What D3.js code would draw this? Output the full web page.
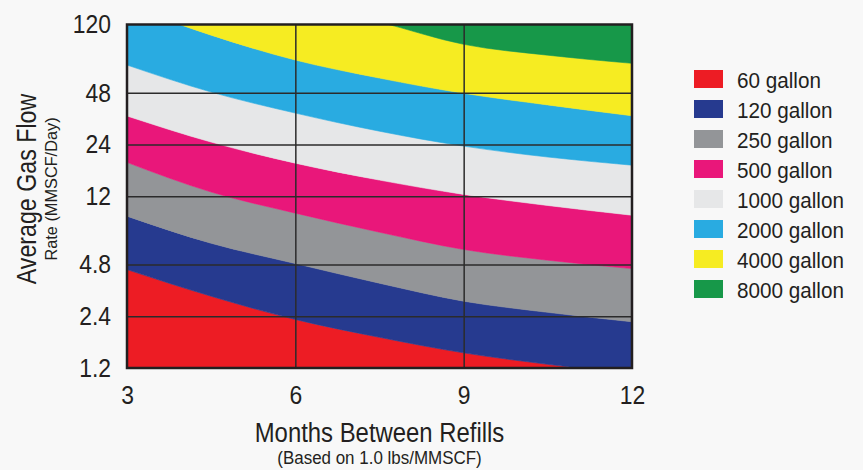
<!DOCTYPE html>
<html>
<head>
<meta charset="utf-8">
<script src="https://cdn.jsdelivr.net/npm/d3@7"></script>
<style>
  html, body { margin: 0; padding: 0; background: #f8f8f8; }
  svg { display: block; }
  text { font-family: "Liberation Sans", Arial, Helvetica, sans-serif; fill: #231f20; }
</style>
</head>
<body>
<script>
// ---- data ----
const months = [3, 4.5, 6, 7.5, 9, 10.5, 12];
// upper boundary (gas flow rate, MMSCF/Day) of each tank-size band
const b60   = [4.49, 3.14, 2.30, 1.81, 1.47, 1.26, 1.10];
const b120  = [9.19, 6.39, 4.87, 3.74, 2.94, 2.53, 2.23];
const b250  = [18.9, 12.7, 9.57, 7.41, 5.88, 5.09, 4.55];
const b500  = [35.2, 24.8, 18.7, 14.9, 12.3, 10.6, 9.3];
const b1000 = [69.7, 48.5, 36.6, 28.7, 23.5, 20.3, 18.2];
const b2000 = [155, 104, 74.5, 58.5, 47.7, 40.8, 35.3];
const b4000 = [300, 215, 160, 124, 92, 79.5, 71.3];
const floorVals = [1.0, 1.0, 1.0, 1.0, 1.0, 1.0, 1.0];
const ceilVals  = [400, 400, 400, 400, 400, 400, 400];

const seriesNames = ["60 gallon", "120 gallon", "250 gallon", "500 gallon",
                     "1000 gallon", "2000 gallon", "4000 gallon", "8000 gallon"];
const seriesColors = ["#ed1c24", "#263a8f", "#939598", "#e9177a",
                      "#e6e7e8", "#29abe1", "#f6ec22", "#179849"];

const xTicks = [3, 6, 9, 12];
const yTicks = [1.2, 2.4, 4.8, 12, 24, 48, 120];
const yTickLabels = ["1.2", "2.4", "4.8", "12", "24", "48", "120"];

// ---- layout ----
const W = 863, H = 470;
const L = 127, R = 632, T = 24.5, B = 368;

const svg = d3.select("body").append("svg").attr("width", W).attr("height", H);

const x = d3.scaleLinear().domain([3, 12]).range([L, R]);
const y = d3.scaleLog().domain([1.2, 120]).range([B, T]);

svg.append("defs").append("clipPath").attr("id", "plotclip")
  .append("rect").attr("x", L).attr("y", T).attr("width", R - L).attr("height", B - T);

const boundaries = [floorVals, b60, b120, b250, b500, b1000, b2000, b4000, ceilVals];
const bands = seriesNames.map((name, i) => ({
  name, color: seriesColors[i],
  pts: months.map((m, j) => ({ m, lo: boundaries[i][j], hi: boundaries[i + 1][j] }))
}));

const area = d3.area()
  .x(d => x(d.m))
  .y0(d => y(d.lo))
  .y1(d => y(d.hi))
  .curve(d3.curveMonotoneX);

const plot = svg.append("g").attr("clip-path", "url(#plotclip)");
plot.selectAll("path.band").data(bands).join("path")
  .attr("class", "band")
  .attr("d", d => area(d.pts))
  .attr("fill", d => d.color)
  .attr("stroke", d => d.color)
  .attr("stroke-width", 0.6);

// grid lines
const gridY = svg.append("g").attr("transform", `translate(${L},0)`)
  .call(d3.axisLeft(y).tickValues(yTicks.slice(1, -1)).tickSize(-(R - L)).tickFormat(""));
gridY.select(".domain").remove();
gridY.selectAll("line").attr("stroke", "#2b2b2b").attr("stroke-width", 1.5);

const gridX = svg.append("g").attr("transform", `translate(0,${B})`)
  .call(d3.axisBottom(x).tickValues(xTicks.slice(1, -1)).tickSize(-(B - T)).tickFormat(""));
gridX.select(".domain").remove();
gridX.selectAll("line").attr("stroke", "#2b2b2b").attr("stroke-width", 1.5);

// frame
svg.append("rect").attr("x", L).attr("y", T).attr("width", R - L).attr("height", B - T)
  .attr("fill", "none").attr("stroke", "#231f20").attr("stroke-width", 2.5);

// condensed look: horizontal squeeze of real text
const TICK_SX = 0.88;

const ya = svg.append("g").attr("transform", `translate(${L},0)`)
  .call(d3.axisLeft(y).tickValues(yTicks).tickSize(0).tickPadding(16)
    .tickFormat((d, i) => yTickLabels[i]));
ya.select(".domain").remove();
ya.selectAll("text")
  .attr("font-size", 26).attr("font-family", null).attr("fill", "#231f20")
  .attr("transform", function() { return `translate(${+this.getAttribute("x")},0) scale(${TICK_SX},1)`; })
  .attr("x", 0);

const xa = svg.append("g").attr("transform", `translate(0,${B})`)
  .call(d3.axisBottom(x).tickValues(xTicks).tickSize(0).tickPadding(18).tickFormat(d3.format("d")));
xa.select(".domain").remove();
xa.selectAll("text")
  .attr("font-size", 26).attr("font-family", null).attr("fill", "#231f20")
  .attr("transform", `scale(${TICK_SX},1)`)
  .attr("x", function() { return 0; });

function label(tx, ty, rot, sx, size, str) {
  svg.append("text")
    .attr("transform", `translate(${tx},${ty}) rotate(${rot}) scale(${sx},1)`)
    .attr("text-anchor", "middle").attr("font-size", size).text(str);
}
label((L + R) / 2, 442, 0, 0.885, 27, "Months Between Refills");
label((L + R) / 2, 464, 0, 0.97, 17.5, "(Based on 1.0 lbs/MMSCF)");
label(36, 189, -90, 0.86, 27, "Average Gas Flow");
label(57, 189, -90, 0.96, 17, "Rate (MMSCF/Day)");

// legend
const items = svg.append("g").selectAll("g").data(seriesNames).join("g")
  .attr("transform", (d, i) => `translate(694,${70 + i * 30})`);
items.append("rect").attr("width", 29).attr("height", 18)
  .attr("fill", (d, i) => seriesColors[i]);
items.append("text").attr("transform", "translate(43,17.5) scale(0.94,1)")
  .attr("font-size", 22).text(d => d);
</script>
</body>
</html>
